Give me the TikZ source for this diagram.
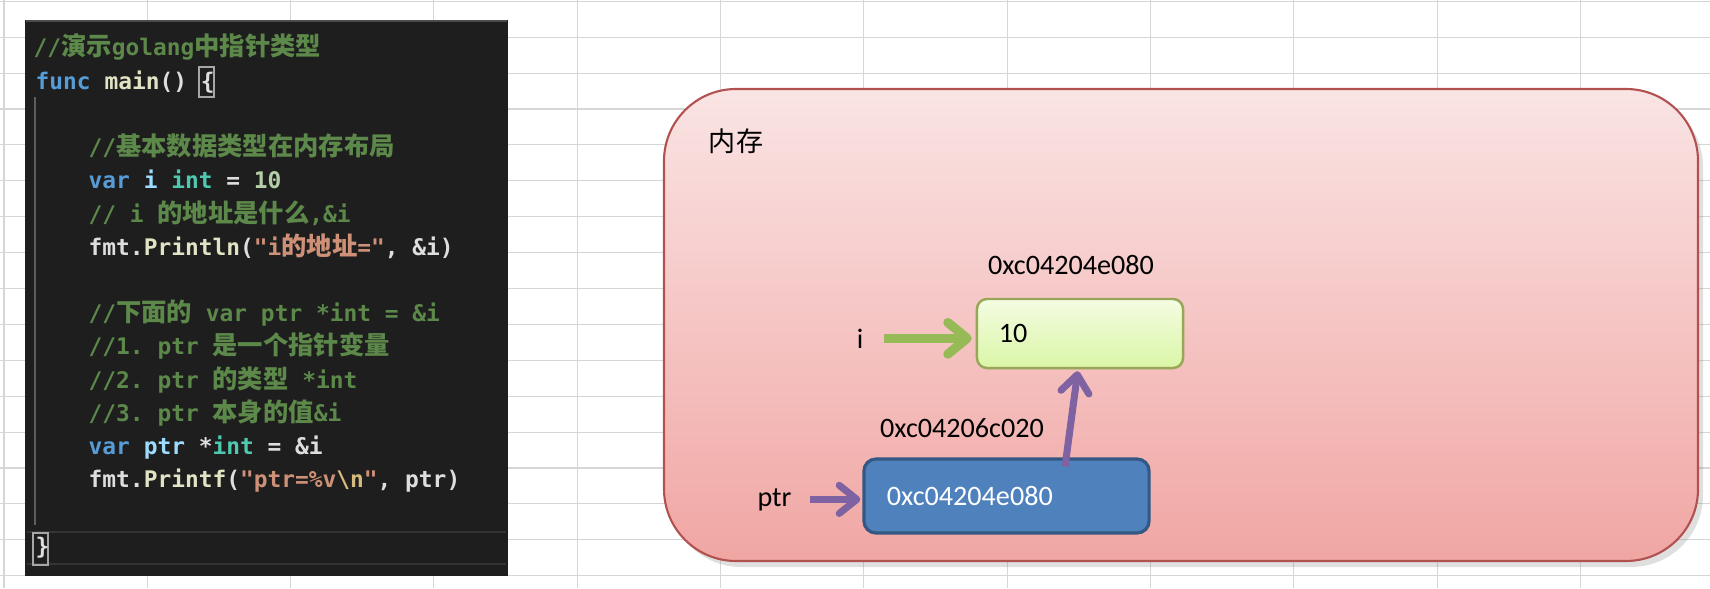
\documentclass[tikz,border=0pt]{standalone}
\usepackage{fontspec}
\setmainfont{Carlito}
\setmonofont{DejaVu Sans Mono}
\newfontfamily\cjk{Noto Sans CJK SC}
\usetikzlibrary{positioning}
\usetikzlibrary{arrows.meta, shadows}

% sheet and editor colours
\definecolor{gridclr}{RGB}{214,214,214}
\definecolor{codebg}{RGB}{30,30,30}
\definecolor{codeedge}{RGB}{52,52,52}
\definecolor{plain}{RGB}{222,222,222}
\definecolor{cmt}{RGB}{92,136,74}
\definecolor{kw}{RGB}{86,156,214}
\definecolor{idf}{RGB}{156,220,254}
\definecolor{typ}{RGB}{78,201,176}
\definecolor{num}{RGB}{181,206,168}
\definecolor{fn}{RGB}{226,226,196}
\definecolor{str}{RGB}{206,145,120}
\definecolor{esc}{RGB}{215,186,125}
% memory picture colours
\definecolor{memtop}{RGB}{250,228,228}
\definecolor{membot}{RGB}{240,166,163}
\definecolor{memborder}{RGB}{178,82,80}
\definecolor{greentop}{RGB}{244,252,226}
\definecolor{greenbot}{RGB}{218,246,166}
\definecolor{greenborder}{RGB}{152,166,88}
\definecolor{ptrblue}{RGB}{79,129,189}
\definecolor{ptrborder}{RGB}{52,88,132}
\definecolor{arrgreen}{RGB}{150,186,86}
\definecolor{arrpurple}{RGB}{126,98,162}

\newcommand{\zh}[1]{{\cjk\fontsize{7.2}{8}\selectfont #1}}

\tikzset{
  gridline/.style={draw=gridclr, line width=0.3pt},
  code/.style={font=\ttfamily\bfseries\fontsize{6.5}{8}\selectfont, text=plain, anchor=base west, inner sep=0pt},
  bracebox/.style={draw=gray!70, line width=0.35pt},
  lbl/.style={font=\fontsize{8}{9.6}\selectfont, inner sep=0pt},
  membox/.style={draw=memborder, line width=0.6pt, top color=memtop, bottom color=membot,
    rounded corners=0.72cm, drop shadow={opacity=0.25, shadow xshift=0.05cm, shadow yshift=-0.06cm}},
  valbox/.style={rectangle, rounded corners=0.1cm, draw=greenborder, line width=0.7pt,
    top color=greentop, bottom color=greenbot, minimum width=2.06cm, minimum height=0.69cm,
    text width=1.62cm, align=left, inner xsep=0.22cm, font=\fontsize{8}{9.6}\selectfont},
  ptrbox/.style={rectangle, rounded corners=0.12cm, draw=ptrborder, line width=0.9pt,
    fill=ptrblue, text=white, minimum width=2.85cm, minimum height=0.74cm,
    text width=2.39cm, align=left, inner xsep=0.23cm, font=\fontsize{8}{9.6}\selectfont},
  garrow/.style={draw=arrgreen, line width=2.6pt, -{Straight Barb[length=5.5pt,width=9pt,round]}},
  parrow/.style={draw=arrpurple, line width=2pt, -{Straight Barb[length=5pt,width=8pt,round]}}
}

\begin{document}
\begin{tikzpicture}[x=0.01cm,y=-0.01cm]
\useasboundingbox (0,0) rectangle (1710,588);
\fill[white] (0,0) rectangle (1710,588);

% spreadsheet grid
\foreach \gx in {4,147.3,...,1700} \draw[gridline] (\gx,0) -- (\gx,588);
\foreach \gy in {1.3,37.2,...,588} \draw[gridline] (0,\gy) -- (1710,\gy);

% editor panel
\draw[fill=codebg,draw=codebg,line width=0.3pt] (26,21) rectangle (507,575);
\draw[gray!60!black,line width=0.4pt] (26,21) -- (507,21);
\draw[codeedge,line width=0.3pt] (27,532) -- (506,532);
\draw[codeedge,line width=0.3pt] (27,564) -- (506,564);
\draw[codeedge!80!white,line width=0.4pt] (35,97) -- (35,525);
\draw[bracebox] (199,67) rectangle (214,97);
\draw[bracebox] (33,533) rectangle (48,565);

\node[code, text=cmt] (l1) at (33,56) {//\zh{演示}golang\zh{中指针类型}};
\node[code] (l2) at (35,89.2) {\textcolor{kw}{func} \textcolor{fn}{main}() \{};
\node[code, text=cmt] (l4) at (88,155.6) {//\zh{基本数据类型在内存布局}};
\node[code] (l5) at (88,188.8) {\textcolor{kw}{var} \textcolor{idf}{i} \textcolor{typ}{int} = \textcolor{num}{10}};
\node[code, text=cmt] (l6) at (88,222) {// i \zh{的地址是什么},\&i};
\node[code] (l7) at (88,255.2) {fmt.\textcolor{fn}{Println}(\textcolor{str}{"i\zh{的地址}="}, \&i)};
\node[code, text=cmt] (l9) at (88,321.6) {//\zh{下面的} var ptr *int = \&i};
\node[code, text=cmt] (l10) at (88,354.8) {//1. ptr \zh{是一个指针变量}};
\node[code, text=cmt] (l11) at (88,388) {//2. ptr \zh{的类型} *int};
\node[code, text=cmt] (l12) at (88,421.2) {//3. ptr \zh{本身的值}\&i};
\node[code] (l13) at (88,454.4) {\textcolor{kw}{var} \textcolor{idf}{ptr} *\textcolor{typ}{int} = \&i};
\node[code] (l14) at (88,487.6) {fmt.\textcolor{fn}{Printf}(\textcolor{str}{"ptr=\%v\textcolor{esc}{\textbackslash n}"}, ptr)};
\node[code] (l16) at (35,554) {\}};

% memory
\draw[membox] (664,89) rectangle (1698,561);
\node[inner sep=0pt, font=\cjk\fontsize{7.7}{9}\selectfont] (memLbl) at (736,141) {内存};

\node[valbox] (boxI) at (1080,333.5) {10};
\node[ptrbox] (boxPtr) at (1006.5,496) {0xc04204e080};

\node[lbl] (addrI) at (1071,265) {0xc04204e080};
\node[lbl] (addrPtr) at (962,428) {0xc04206c020};
\node[lbl, anchor=base] (varI) at (860,348) {i};
\node[lbl, anchor=base] (ptrLbl) at (774.5,506) {ptr};

\draw[garrow, shorten <=0.2cm, shorten >=0.04cm] (varI.east) -- (varI.east -| boxI.west);
\draw[parrow, shorten <=0.18cm, shorten >=0.02cm] (ptrLbl.east) -- (ptrLbl.east -| boxPtr.west);
\draw[parrow, shorten >=0.02cm] ([xshift=0.585cm, yshift=-0.09cm]boxPtr.north) -- ([xshift=-0.02cm]boxI.south);

\end{tikzpicture}
\end{document}
